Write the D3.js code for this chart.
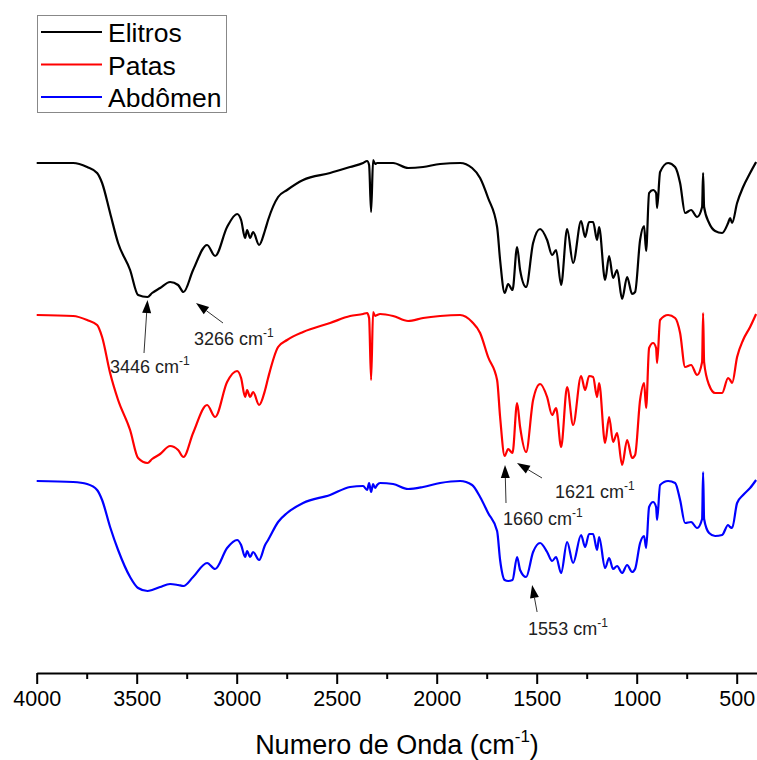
<!DOCTYPE html>
<html>
<head>
<meta charset="utf-8">
<script src="https://cdn.jsdelivr.net/npm/d3@7"></script>
<style>
  body { margin: 0; background: #fff; }
  text { font-family: "Liberation Sans", Arial, sans-serif; }
</style>
</head>
<body>
<div id="chart"></div>
<script>
// numero de onda (cm-1), comum aos tres espectros
const wavenumbers = [4000, 3818, 3748, 3698, 3673, 3633, 3593, 3533, 3493, 3446,
  3423, 3383, 3333, 3293, 3266, 3218, 3148, 3108, 3048, 2998,
  2978, 2958, 2948, 2933, 2918, 2888, 2858, 2843, 2793, 2748,
  2668, 2533, 2433, 2368, 2348, 2338, 2328, 2318, 2308, 2298,
  2283, 2218, 2143, 2068, 1983, 1883, 1823, 1783, 1743, 1698,
  1683, 1660, 1643, 1621, 1598, 1583, 1553, 1518, 1483, 1448,
  1423, 1403, 1378, 1348, 1318, 1278, 1258, 1238, 1218, 1198,
  1188, 1158, 1138, 1118, 1098, 1073, 1048, 1023, 1008, 983,
  963, 953, 938, 918, 903, 898, 883, 843, 808, 783,
  758, 728, 698, 673, 668, 663, 638, 608, 573, 543,
  533, 523, 498, 468, 433, 403]

// transmitancia (u.a.), espectros deslocados verticalmente
const elitros = [102, 102, 101.2, 100, 98, 92, 86, 80.6, 75.6, 75.2,
  76, 77, 78.2, 77.6, 76.2, 80.6, 85.6, 83.4, 89.2, 91.8,
  90.6, 87, 88.6, 87, 88.2, 85.6, 88.6, 90.6, 95.2, 96.6,
  98.6, 100, 101.2, 102, 102.4, 101.6, 92.2, 102.6, 101.8, 102,
  102, 102, 101, 101.2, 101.8, 102, 101, 99, 95, 89.2,
  82.6, 76, 77.8, 76.6, 85.2, 80.6, 77.2, 86, 88.8, 86.6,
  83.6, 84.6, 77.6, 88.8, 82, 90.4, 87.2, 90.2, 90.2, 86.6,
  89.2, 78.6, 83.4, 79, 80.6, 74.8, 79.2, 75.8, 76.2, 86.6,
  89.4, 84.4, 96, 96.6, 96, 93, 100.2, 102, 101.2, 98,
  92, 92.6, 91.2, 93.2, 100, 93.2, 90, 88.4, 88, 90,
  91, 90, 94, 97.2, 100, 102.2]

const patas = [71.6, 71.4, 70.6, 69.6, 67.2, 60, 54.6, 48.6, 43, 42,
  42.8, 43.8, 45.4, 44.6, 43.2, 48, 53.6, 51.2, 58.2, 60.4,
  59, 55.2, 56.6, 55.2, 56.2, 53.6, 56.6, 59, 65.2, 66.6,
  68.2, 70, 71.4, 71.8, 72, 71, 58.6, 72.2, 71.4, 71.6,
  71.8, 71.4, 70.4, 71, 71.4, 71.6, 70.2, 68, 63.2, 58.6,
  51.2, 43.4, 44.8, 44, 54, 49.2, 44.2, 54.6, 57.8, 55.2,
  51.6, 53, 45.2, 57.2, 49.6, 59.4, 56.6, 59.4, 59.2, 55.2,
  58, 46, 51.2, 46.2, 48, 41.6, 46.6, 43, 43.6, 54.6,
  58, 53, 65, 66, 65, 62, 70.6, 71.6, 71, 68,
  61.2, 61.6, 59.6, 62.2, 72, 62.2, 57.6, 56, 56, 59,
  58.6, 58, 63.2, 66.6, 69.2, 71.8]

const abdomen = [38.4, 38.2, 37.8, 36.6, 34.6, 29.2, 24.6, 19.2, 17, 16.4,
  16.6, 17.2, 17.8, 17.6, 17.4, 19.2, 22, 20.8, 25, 26.6,
  25.6, 23.2, 24.4, 23.2, 24.2, 22.6, 25.6, 26.6, 30.2, 32,
  34, 35.6, 37.2, 37.4, 36.6, 38, 36.2, 37.8, 37, 37.6,
  38, 37.8, 36.8, 37.2, 38, 38.4, 37.6, 35.2, 32, 28.4,
  22.6, 18.6, 18.4, 18.6, 23.2, 20.6, 19.2, 24.2, 26, 24.2,
  22.4, 23.2, 20, 26.2, 22, 27.6, 25.2, 27.8, 27.8, 24.6,
  27.2, 21, 23, 20.8, 21.4, 20, 21.6, 20.2, 20.8, 26,
  27.4, 25, 33.2, 34.2, 33.2, 30.6, 37.6, 38.4, 38, 34.6,
  30, 30.2, 29, 30.8, 40.2, 30.8, 28, 27.4, 27.6, 29.6,
  29.2, 29, 34, 35.6, 37, 38.6]

const seriesNames = ["Elitros", "Patas", "Abdômen"]
const seriesColors = ["#000000", "#ff0000", "#0000ff"]
const seriesValues = [elitros, patas, abdomen]

const xTicks = [4000, 3500, 3000, 2500, 2000, 1500, 1000, 500]
const xMinorTicks = [3750, 3250, 2750, 2250, 1750, 1250, 750]

// bandas assinaladas: numero de onda, espectro
const bandWn = [3446, 3266, 1660, 1621, 1553]
const bandSeries = [0, 0, 1, 1, 2]
// deslocamentos (px): ponta da seta, cauda da seta, texto
const bandLayout = [
  { tip: [0, 3], tail: [-3.5, 53], text: [-37.5, 73] },
  { tip: [12.5, 11], tail: [27, 20], text: [-2, 42] },
  { tip: [0.3, 9], tail: [1, 38], text: [-2, 60] },
  { tip: [4.5, 10], tail: [25, 15], text: [38, 35] },
  { tip: [6, 8], tail: [5, 27], text: [-4, 50] }
]

const W = 757, H = 760
const svg = d3.select("#chart").append("svg")
  .attr("width", W)
  .attr("height", H)

const x = d3.scaleLinear().domain([4000, 400]).range([36.7, 756.7])
const y = d3.scaleLinear().domain([0, 100]).range([673, 173])

// espectros
const line = d3.line()
  .x(d => x(d[0]))
  .y(d => y(d[1]))
  .curve(d3.curveMonotoneX)

seriesValues.forEach((vals, i) => {
  svg.append("path")
    .datum(wavenumbers.map((w, k) => [w, vals[k]]))
    .attr("fill", "none")
    .attr("stroke", seriesColors[i])
    .attr("stroke-width", 2.2)
    .attr("stroke-linejoin", "round")
    .attr("d", line)
})

// eixo X: marcas menores, depois principais
const minorG = svg.append("g").attr("transform", "translate(0," + y(0) + ")")
minorG.call(d3.axisBottom(x).tickValues(xMinorTicks).tickSize(6).tickSizeOuter(0).tickFormat(""))
minorG.select(".domain").remove()
minorG.selectAll(".tick line").attr("stroke", "#000").attr("stroke-width", 2)

const axisG = svg.append("g").attr("transform", "translate(0," + y(0) + ")")
axisG.call(d3.axisBottom(x).tickValues(xTicks).tickFormat(d3.format("d"))
  .tickSize(11).tickSizeOuter(0).tickPadding(7))
axisG.select(".domain").attr("stroke", "#000").attr("stroke-width", 2)
axisG.selectAll(".tick line").attr("stroke", "#000").attr("stroke-width", 2)
axisG.selectAll(".tick text")
  .attr("font-size", 21.5)
  .attr("font-family", "Liberation Sans, Arial, sans-serif")
  .attr("fill", "#000")

const title = svg.append("text")
  .attr("x", 397)
  .attr("y", 754)
  .attr("text-anchor", "middle")
  .attr("font-size", 27)
  .attr("fill", "#000")
title.append("tspan").text("Numero de Onda (cm")
title.append("tspan").attr("font-size", 17).attr("dy", -12).text("-1")
title.append("tspan").attr("dy", 12).text(")")

// setas e rotulos das bandas
const annG = svg.append("g")
bandWn.forEach((wn, i) => {
  const k = wavenumbers.indexOf(wn)
  const lay = bandLayout[i]
  const tx = x(wn) + lay.tip[0], ty = y(seriesValues[bandSeries[i]][k]) + lay.tip[1]
  const sx = tx + lay.tail[0], sy = ty + lay.tail[1]
  const ang = Math.atan2(ty - sy, tx - sx)
  const hl = 13, hw = 4.5
  const bx = tx - hl * Math.cos(ang), by = ty - hl * Math.sin(ang)
  annG.append("line")
    .attr("x1", sx).attr("y1", sy).attr("x2", bx).attr("y2", by)
    .attr("stroke", "#333").attr("stroke-width", 1)
  annG.append("polygon")
    .attr("points", [
      [tx, ty],
      [bx + hw * Math.sin(ang), by - hw * Math.cos(ang)],
      [bx - hw * Math.sin(ang), by + hw * Math.cos(ang)]
    ].map(p => p.join(",")).join(" "))
    .attr("fill", "#000")
  const t = annG.append("text")
    .attr("x", tx + lay.text[0])
    .attr("y", ty + lay.text[1])
    .attr("font-size", 18)
    .attr("fill", "#222")
  t.append("tspan").text(wn + " cm")
  t.append("tspan").attr("font-size", 12).attr("dy", -8).text("-1")
})

// legenda
const leg = svg.append("g")
leg.append("rect")
  .attr("x", 37.5).attr("y", 15.5)
  .attr("width", 189).attr("height", 97)
  .attr("fill", "#fff")
  .attr("stroke", "#888")
  .attr("stroke-width", 1)
seriesNames.forEach((name, i) => {
  const ly = 32 + i * 32.5
  leg.append("line")
    .attr("x1", 41).attr("x2", 102)
    .attr("y1", ly).attr("y2", ly)
    .attr("stroke", seriesColors[i])
    .attr("stroke-width", 2)
  leg.append("text")
    .attr("x", 108).attr("y", ly + 10)
    .attr("font-size", 26.5)
    .attr("fill", "#000")
    .text(name)
})
</script>
</body>
</html>
